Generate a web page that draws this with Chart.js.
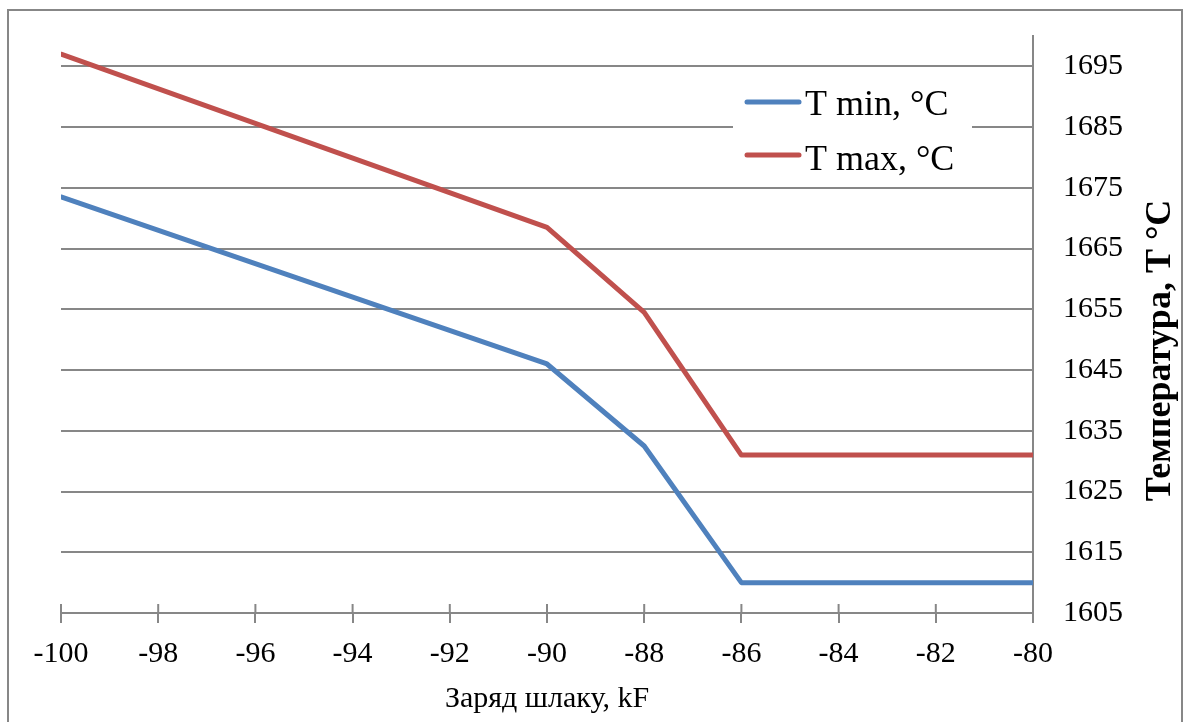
<!DOCTYPE html>
<html>
<head>
<meta charset="utf-8">
<script src="https://cdn.jsdelivr.net/npm/chart.js@4/dist/chart.umd.min.js"></script>
<style>
  html, body { margin: 0; padding: 0; background: #fff; }
  #wrap { width: 1186px; height: 722px; }
</style>
</head>
<body>
<div id="wrap"><canvas id="grafica" width="1186" height="722"></canvas></div>
<script>
// Заряд шлаку (kF) і температури
const zaryad = [-100, -90, -88, -86, -80];
const tMin = [1673.5, 1646, 1632.5, 1610, 1610];
const tMax = [1697, 1668.5, 1654.5, 1631, 1631];
const yTicks = [1605, 1615, 1625, 1635, 1645, 1655, 1665, 1675, 1685, 1695];

const serif = "'Liberation Serif', 'Times New Roman', serif";
const gris = '#878787';

// Marco exterior, marcas del eje X que cruzan la línea, título del eje Y y leyenda
const extras = {
  id: 'extras',
  beforeDraw(chart) {
    const ctx = chart.ctx;
    ctx.save();
    ctx.strokeStyle = gris;
    ctx.lineWidth = 2;
    ctx.strokeRect(8, 10, 1174, 730);
    ctx.restore();
  },
  afterDraw(chart) {
    const ctx = chart.ctx;
    const area = chart.chartArea;
    const x = chart.scales.x;
    const y = chart.scales.y;
    ctx.save();
    // marcas hacia dentro del área
    ctx.strokeStyle = gris;
    ctx.lineWidth = 2;
    x.ticks.forEach(t => {
      const px = x.getPixelForValue(t.value);
      ctx.beginPath();
      ctx.moveTo(px, area.bottom - 9);
      ctx.lineTo(px, area.bottom);
      ctx.stroke();
    });
    // título del eje Y, de abajo hacia arriba
    ctx.fillStyle = '#000';
    ctx.font = 'bold 36px ' + serif;
    ctx.textAlign = 'center';
    ctx.textBaseline = 'middle';
    ctx.translate(y.right - 25, (area.top + area.bottom) / 2 + 26);
    ctx.rotate(-Math.PI / 2);
    ctx.fillText('Температура, T °C', 0, 0);
    ctx.restore();

    // leyenda
    ctx.save();
    ctx.fillStyle = '#fff';
    ctx.fillRect(733, 80, 239, 100);
    ctx.font = '36px ' + serif;
    ctx.textAlign = 'left';
    ctx.textBaseline = 'alphabetic';
    chart.data.datasets.forEach((ds, i) => {
      const ly = 102 + i * 53;
      ctx.strokeStyle = ds.borderColor;
      ctx.lineWidth = 5;
      ctx.lineCap = 'round';
      ctx.beginPath();
      ctx.moveTo(747, ly);
      ctx.lineTo(799, ly);
      ctx.stroke();
      ctx.fillStyle = '#000';
      ctx.fillText(ds.label, 805, ly + 13 + i * 2);
    });
    ctx.restore();
  }
};

const datos1 = {
  label: 'T min, °C',
  data: zaryad.map((v, i) => ({ x: v, y: tMin[i] })),
  borderColor: '#4F81BD',
  borderWidth: 5,
  pointRadius: 0,
  borderCapStyle: 'round',
  borderJoinStyle: 'round',
  tension: 0,
};
const datos2 = {
  label: 'T max, °C',
  data: zaryad.map((v, i) => ({ x: v, y: tMax[i] })),
  borderColor: '#C0504D',
  borderWidth: 5,
  pointRadius: 0,
  borderCapStyle: 'round',
  borderJoinStyle: 'round',
  tension: 0,
};

var chart = new Chart(document.getElementById('grafica'), {
  type: 'line',
  data: { datasets: [datos1, datos2] },
  options: {
    responsive: false,
    animation: false,
    layout: { padding: { left: 61, top: 36, right: 0, bottom: 0 } },
    plugins: { legend: { display: false }, tooltip: { enabled: false } },
    scales: {
      x: {
        type: 'linear',
        position: 'bottom',
        min: -100,
        max: -80,
        afterFit(scale) {
          scale.height = 109;
          scale.paddingLeft = 0;
          scale.paddingRight = 0;
        },
        ticks: { stepSize: 2, color: '#000', padding: 13, font: { family: serif, size: 30 } },
        grid: { drawOnChartArea: false, drawTicks: true, tickLength: 10, color: gris, lineWidth: 2 },
        border: { color: gris, width: 2 },
        title: {
          display: true,
          text: 'Заряд шлаку, kF',
          color: '#000',
          font: { family: serif, size: 30 },
          padding: { top: 0, bottom: 5 }
        }
      },
      y: {
        type: 'linear',
        position: 'right',
        min: 1605,
        max: 1700,
        afterFit(scale) {
          scale.width = 153;
          scale.paddingTop = 0;
          scale.paddingBottom = 0;
        },
        afterBuildTicks(scale) { scale.ticks = yTicks.map(v => ({ value: v })); },
        ticks: {
          color: '#000',
          padding: 30,
          font: { family: serif, size: 30 },
          callback: v => String(v)
        },
        grid: { drawTicks: false, color: gris, lineWidth: 2 },
        border: { color: gris, width: 2 }
      }
    }
  },
  plugins: [extras]
});
</script>
</body>
</html>
